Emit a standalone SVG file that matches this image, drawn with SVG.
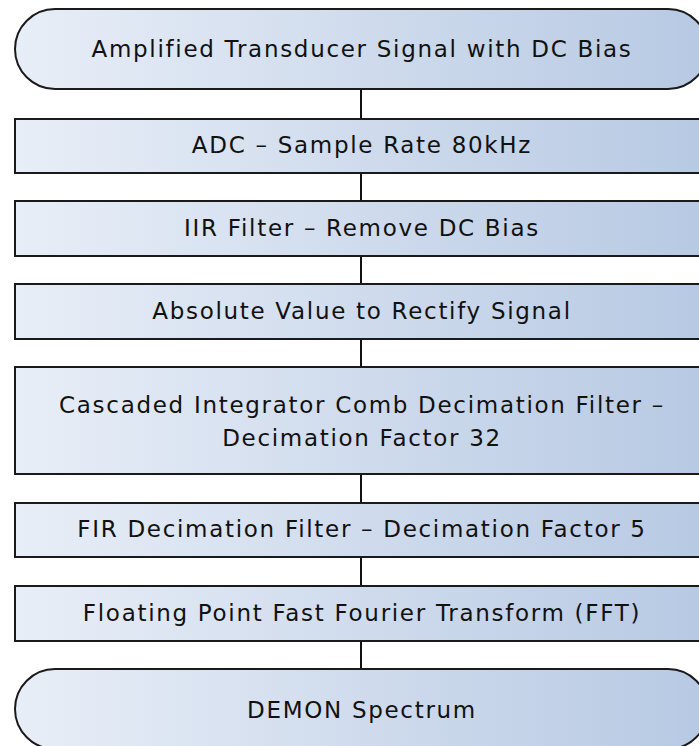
<svg xmlns="http://www.w3.org/2000/svg" width="699" height="746" viewBox="0 0 699 746">
<defs>
<linearGradient id="g" x1="0" y1="0" x2="1" y2="0">
<stop offset="0" stop-color="#e8eef7"/>
<stop offset="1" stop-color="#b7c9e3"/>
</linearGradient>
<style>
.s{fill:url(#g);stroke:#1a1a1a;stroke-width:2}
.t{font-family:"DejaVu Sans",sans-serif;font-size:23px;letter-spacing:1.7px;fill:#111;text-anchor:middle}
.c{stroke:#111;stroke-width:2;fill:none}
</style>
</defs>
<rect width="699" height="746" fill="#fff"/>
<g id="connectors">
<line class="c" x1="361" y1="89" x2="361" y2="119"/>
<line class="c" x1="361" y1="173" x2="361" y2="201"/>
<line class="c" x1="361" y1="256" x2="361" y2="284"/>
<line class="c" x1="361" y1="339" x2="361" y2="367"/>
<line class="c" x1="361" y1="474" x2="361" y2="503"/>
<line class="c" x1="361" y1="557" x2="361" y2="586"/>
<line class="c" x1="361" y1="641" x2="361" y2="669"/>
</g>
<g id="n1">
<rect class="s" x="15" y="9" width="693" height="80" rx="40" ry="40"/>
<text class="t" x="362" y="57">Amplified Transducer Signal with DC Bias</text>
</g>
<g id="n2">
<rect class="s" x="15" y="119" width="693" height="54"/>
<text class="t" x="362" y="153">ADC – Sample Rate 80kHz</text>
</g>
<g id="n3">
<rect class="s" x="15" y="201" width="693" height="55"/>
<text class="t" x="362" y="236">IIR Filter – Remove DC Bias</text>
</g>
<g id="n4">
<rect class="s" x="15" y="284" width="693" height="55"/>
<text class="t" x="362" y="319">Absolute Value to Rectify Signal</text>
</g>
<g id="n5">
<rect class="s" x="15" y="367" width="693" height="107"/>
<text class="t" x="362" y="413">Cascaded Integrator Comb Decimation Filter –</text>
<text class="t" x="362" y="446">Decimation Factor 32</text>
</g>
<g id="n6">
<rect class="s" x="15" y="503" width="693" height="54"/>
<text class="t" x="362" y="537">FIR Decimation Filter – Decimation Factor 5</text>
</g>
<g id="n7">
<rect class="s" x="15" y="586" width="693" height="55"/>
<text class="t" x="362" y="621">Floating Point Fast Fourier Transform (FFT)</text>
</g>
<g id="n8">
<rect class="s" x="15" y="669" width="693" height="80" rx="40" ry="40"/>
<text class="t" x="362" y="718">DEMON Spectrum</text>
</g>
</svg>
